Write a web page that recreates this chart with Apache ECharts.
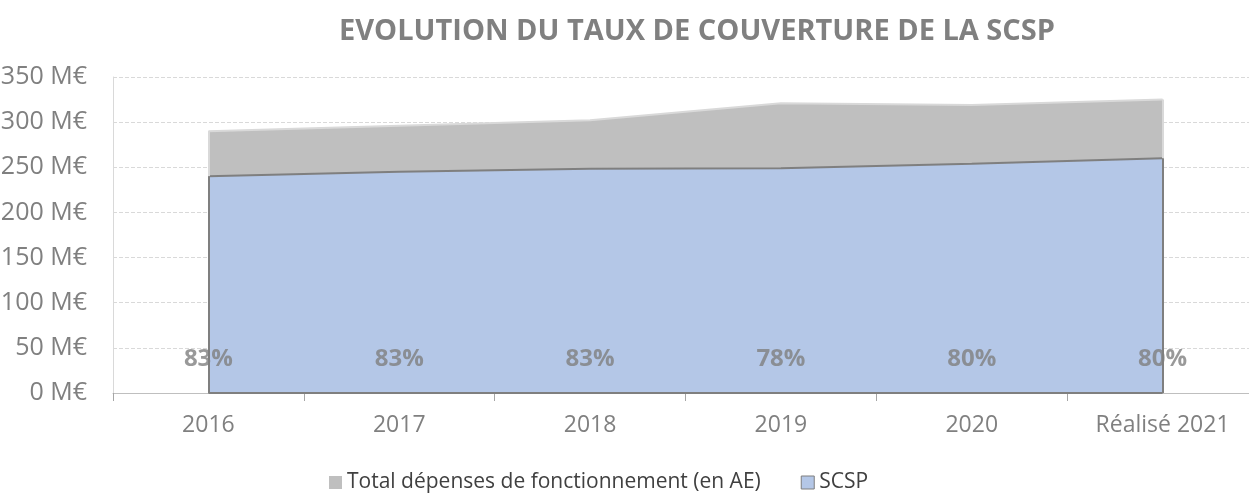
<!DOCTYPE html>
<html>
<head>
<meta charset="utf-8">
<script src="https://cdn.jsdelivr.net/npm/echarts@6/dist/echarts.min.js"></script>
<style>html,body{margin:0;padding:0;background:#fff}#c{width:1249px;height:498px}</style>
</head>
<body>
<div id="c"></div>
<script>
const categories = ['2016', '2017', '2018', '2019', '2020', 'Réalisé 2021'];
const totalDepenses = [290, 296, 302, 321, 319, 325];
const scsp = [240, 245, 248.5, 249, 254, 260];
const coverageLabels = ['83%', '83%', '83%', '78%', '80%', '80%'];
const labelLevel = 38;
const yTicks = [0, 50, 100, 150, 200, 250, 300, 350];

const FONT = '"Source Sans Pro","Open Sans","Noto Sans",sans-serif';
const chart = echarts.init(document.getElementById('c'), null, {renderer: 'canvas'});
const last = categories.length - 1;

chart.setOption({
  animation: false,
  title: {
    text: 'EVOLUTION DU TAUX DE COUVERTURE DE LA SCSP',
    left: 692, top: 12, textAlign: 'center',
    textStyle: {fontFamily: FONT, fontWeight: 'bold', fontSize: 29, color: '#808080'}
  },
  legend: {
    bottom: 0, left: 324, itemGap: 40, itemWidth: 13, itemHeight: 13,
    icon: 'rect',
    textStyle: {fontFamily: FONT, fontSize: 21, color: '#404040'},
    data: [
      {name: 'Total dépenses de fonctionnement (en AE)', itemStyle: {color: '#bfbfbf', borderWidth: 0}},
      {name: 'SCSP', itemStyle: {color: '#b4c7e7', borderColor: '#7f7f7f', borderWidth: 1}}
    ]
  },
  grid: {left: 113, right: -9, top: 77, bottom: 105, containLabel: false, outerBoundsMode: 'none'},
  xAxis: {
    type: 'category', data: categories, boundaryGap: true,
    axisLine: {lineStyle: {color: '#bfbfbf', width: 1}},
    axisTick: {show: true, length: 8, lineStyle: {color: '#a6a6a6'}},
    axisLabel: {fontFamily: FONT, fontSize: 23, color: '#808080', margin: 21}
  },
  yAxis: {
    type: 'value', min: yTicks[0], max: yTicks[yTicks.length - 1], interval: 50,
    axisLine: {show: true, lineStyle: {color: '#d9d9d9'}},
    axisTick: {show: false},
    axisLabel: {fontFamily: FONT, fontSize: 25, color: '#808080', margin: 26,
      formatter: v => v + ' M€'},
    splitLine: {lineStyle: {color: '#d9d9d9', type: 'dashed'}}
  },
  series: [
    {
      name: 'Total dépenses de fonctionnement (en AE)', type: 'line', data: totalDepenses,
      symbol: 'none', z: 2,
      lineStyle: {color: '#d9d9d9', width: 2},
      itemStyle: {color: '#bfbfbf'},
      areaStyle: {color: '#bfbfbf', opacity: 1},
      markLine: {
        silent: true, symbol: 'none', label: {show: false},
        lineStyle: {color: '#d9d9d9', width: 2, type: 'solid'},
        data: [
          [{coord: [0, scsp[0]]}, {coord: [0, totalDepenses[0]]}],
          [{coord: [last, scsp[last]]}, {coord: [last, totalDepenses[last]]}]
        ]
      }
    },
    {
      name: 'SCSP', type: 'line', data: scsp,
      symbol: 'none', z: 3,
      lineStyle: {color: '#7f7f7f', width: 2},
      itemStyle: {color: '#b4c7e7', borderColor: '#7f7f7f'},
      areaStyle: {color: '#b4c7e7', opacity: 1},
      markLine: {
        silent: true, symbol: 'none', label: {show: false},
        lineStyle: {color: '#7f7f7f', width: 2, type: 'solid'},
        data: [
          [{coord: [0, 0]}, {coord: [0, scsp[0]]}],
          [{coord: [last, 0]}, {coord: [last, scsp[last]]}],
          [{coord: [0, 0]}, {coord: [last, 0]}]
        ]
      }
    },
    {
      name: 'labels', type: 'scatter', symbolSize: 0, z: 10, silent: true,
      data: categories.map((c, i) => [i, labelLevel]),
      label: {
        show: true, position: 'inside',
        formatter: p => coverageLabels[p.dataIndex],
        fontFamily: FONT, fontWeight: 'bold', fontSize: 24, color: '#808080'
      }
    }
  ]
});
</script>
</body>
</html>
